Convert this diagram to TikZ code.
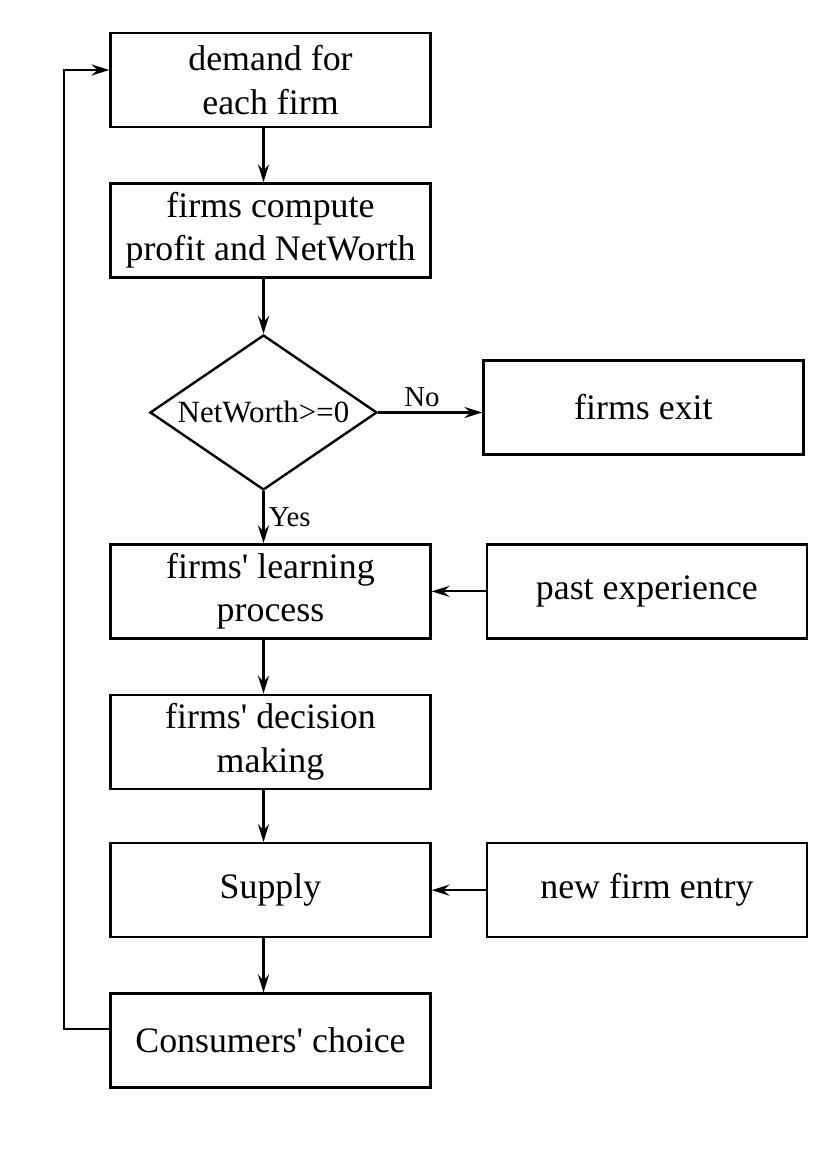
\documentclass[tikz,border=0pt]{standalone}
\usepackage{fontspec}
\setmainfont{Liberation Serif}
\usepackage{tikz}
\usetikzlibrary{arrows.meta,positioning,shapes.geometric}

\begin{document}
\begin{tikzpicture}[
  node distance=1.35cm and 1.35cm,
  box/.style={draw, line width=1.7pt, align=center, font=\fontsize{25.5}{31}\selectfont, minimum width=8cm, minimum height=2.35cm, inner sep=2pt},
  dec/.style={draw, line width=1.7pt, diamond, aspect=1.465, minimum width=5.675cm, minimum height=3.875cm, inner sep=0pt, font=\fontsize{22}{26}\selectfont},
  arr/.style={-{Stealth[length=4.5mm, width=2.8mm, inset=1.6mm]}, line width=1.5pt},
  lab/.style={font=\fontsize{20.5}{24}\selectfont, inner sep=3pt}]
\useasboundingbox (0,0) rectangle (20.675,-29.25);
\node[box] (n1) at (6.7625,-2.0) {demand for\\each firm};
\node[box, below=of n1] (n2) {firms compute\\profit and NetWorth};
\node[dec, below=1.38cm of n2, xshift=-0.175cm] (dm) {NetWorth>=0};
\node[box, below=1.3cm of dm, xshift=0.175cm] (n4) {firms\textquotesingle{} learning\\process};
\node[box, below=of n4] (n5) {firms\textquotesingle{} decision\\making};
\node[box, below=1.3cm of n5] (n6) {Supply};
\node[box, below=of n6] (n7) {Consumers\textquotesingle{} choice};
\node[box, right=2.6cm of dm, yshift=0.125cm] (ex) {firms exit};
\node[box, right=of n4] (pe) {past experience};
\node[box, right=of n6] (ne) {new firm entry};
\draw[arr] (n1.south -| dm) -- (n2.north -| dm);
\draw[arr] (n2.south -| dm) -- (dm);
\draw[arr] (dm) -- node[lab, above, pos=0.42] {No} (ex.west |- dm);
\draw[arr] (dm) -- node[lab, right] {Yes} (n4.north -| dm);
\foreach \a/\b in {n4/n5,n5/n6,n6/n7} \draw[arr] (\a.south -| dm) -- (\b.north -| dm);
\draw[arr] (pe) -- (n4);
\draw[arr] (ne) -- (n6);
\draw[arr] ([yshift=0.3cm]n7.west) -- ++(-1.1375,0) |- ([yshift=0.25cm]n1.west);
\end{tikzpicture}
\end{document}
